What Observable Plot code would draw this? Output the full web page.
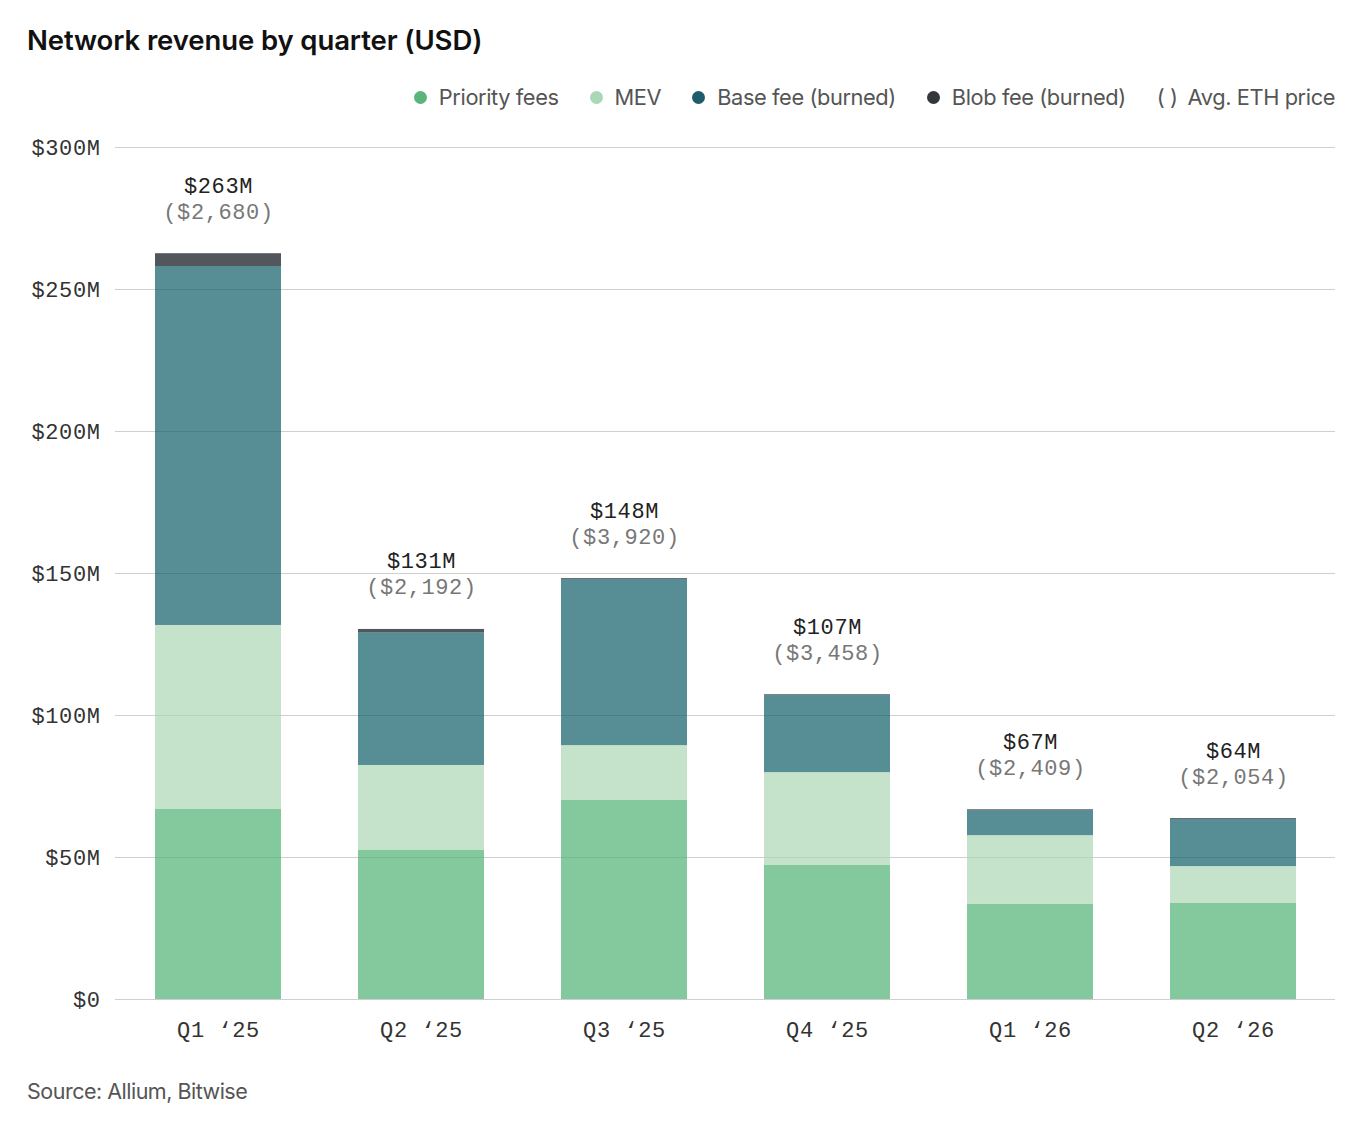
<!DOCTYPE html>
<html>
<head>
<meta charset="utf-8">
<script src="https://cdn.jsdelivr.net/npm/d3@7"></script>
<script src="https://cdn.jsdelivr.net/npm/@observablehq/plot@0.6"></script>
<style>
  html, body { margin: 0; padding: 0; background: #fff; }
  body { width: 1366px; height: 1130px; position: relative; overflow: hidden; font-family: Inter, "Noto Sans", sans-serif; }
  #title { position: absolute; left: 27px; top: 23px; font-size: 27.5px; font-weight: 600; color: #111; letter-spacing: -0.1px; white-space: nowrap; }
  #legend { position: absolute; right: 31px; top: 84px; display: flex; align-items: center; gap: 31px; font-size: 21.8px; color: #555; letter-spacing: -0.4px; white-space: nowrap; }
  #legend .item { display: flex; align-items: center; }
  #legend .dot { width: 13px; height: 13px; border-radius: 50%; margin-right: 12px; display: inline-block; }
  #legend .paren { margin-right: 10px; }
  #chart { position: absolute; left: 0; top: 120px; }
  #chart svg text { letter-spacing: 0.6px; }
  #caption { position: absolute; left: 27px; top: 1078px; font-size: 21.5px; color: #555; letter-spacing: -0.5px; }
</style>
</head>
<body>
<div id="title">Network revenue by quarter (USD)</div>
<div id="legend"></div>
<div id="chart"></div>
<div id="caption">Source: Allium, Bitwise</div>
<script>
// ---- data (USD millions) ----
const quarters = ["Q1 \u201825", "Q2 \u201825", "Q3 \u201825", "Q4 \u201825", "Q1 \u201826", "Q2 \u201826"];
const seriesNames = ["Priority fees", "MEV", "Base fee (burned)", "Blob fee (burned)"];
const priorityFees = [66.9, 52.5, 70.1, 47.2, 33.5, 33.9];
const mev          = [64.8, 29.9, 19.3, 32.7, 24.2, 12.9];
const baseFee      = [126.4, 46.7, 58.5, 27.1, 8.8, 16.6];
const blobFee      = [4.5, 1.2, 0.3, 0.3, 0.3, 0.3];
const totalLabels  = [263, 131, 148, 107, 67, 64];
const ethPrice     = [2680, 2192, 3920, 3458, 2409, 2054];
const yTicks       = [0, 50, 100, 150, 200, 250, 300];

const seriesColors = ["#4fb274", "#acd7b3", "#105e6a", "#09101a"];
const legendColors = ["#5ab47c", "#a9d8b6", "#1f5c6b", "#33363b"];

// ---- tidy rows ----
const seriesValues = [priorityFees, mev, baseFee, blobFee];
const rows = [];
quarters.forEach((q, i) => {
  seriesNames.forEach((s, j) => rows.push({quarter: q, series: s, value: seriesValues[j][i]}));
});
const tops = quarters.map((q, i) => ({
  quarter: q,
  top: priorityFees[i] + mev[i] + baseFee[i] + blobFee[i],
  total: `$${totalLabels[i]}M`,
  price: `($${d3.format(",")(ethPrice[i])})`
}));

// ---- legend ----
const legend = document.getElementById("legend");
seriesNames.forEach((s, j) => {
  const it = document.createElement("div");
  it.className = "item";
  it.innerHTML = `<span class="dot" style="background:${legendColors[j]}"></span><span>${s}</span>`;
  legend.appendChild(it);
});
const pit = document.createElement("div");
pit.className = "item";
pit.innerHTML = `<span class="paren">( )</span><span>Avg. ETH price</span>`;
legend.appendChild(pit);

const mono = "'Liberation Mono', 'DejaVu Sans Mono', monospace";

const chart = Plot.plot({
  width: 1366,
  height: 939,
  marginLeft: 115,
  marginRight: 31,
  marginTop: 27,
  marginBottom: 60,
  style: {fontFamily: mono, fontSize: "22px", color: "#333", background: "white"},
  x: {domain: quarters, paddingInner: 0.38, paddingOuter: 0.19, label: null},
  y: {domain: [0, 300], label: null},
  color: {domain: seriesNames, range: seriesColors},
  marks: [
    Plot.ruleY(yTicks, {stroke: "#cfcfcf", strokeWidth: 1}),
    Plot.barY(rows, {x: "quarter", y: "value", fill: "series", fillOpacity: 0.7}),
    Plot.text(tops, {x: "quarter", y: "top", text: "price", dy: -42, fill: "#777", stroke: "white", strokeWidth: 6, fontSize: 22, fontFamily: mono}),
    Plot.text(tops, {x: "quarter", y: "top", text: "total", dy: -68, fill: "#222", stroke: "white", strokeWidth: 6, fontSize: 22, fontFamily: mono}),
    Plot.axisX({tickSize: 0, tickPadding: 22, label: null, fill: "#333", fontSize: 22}),
    Plot.axisY({ticks: yTicks, tickSize: 0, tickPadding: 15, label: null, fill: "#333", fontSize: 22,
      tickFormat: d => d === 0 ? "$0" : `$${d}M`})
  ]
});
document.getElementById("chart").appendChild(chart);
</script>
</body>
</html>
